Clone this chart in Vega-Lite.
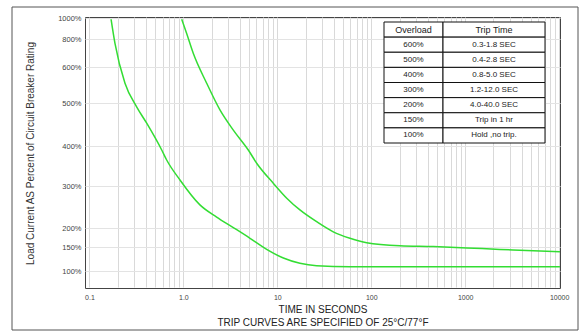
{
  "$schema": "https://vega.github.io/schema/vega-lite/v6.json",
  "autosize": {"type": "none"},
  "padding": {"left": 85, "top": 17, "right": 22, "bottom": 45},
  "width": 475,
  "height": 271,
  "background": "white",
  "config": {
    "view": {"stroke": "#444", "strokeWidth": 1},
    "font": "Liberation Sans"
  },
  "datasets": {
    "frame": [{"f0": 0, "f1": 1}],
    "curves": [
      {"curve": "min", "t": 0.17, "pct": 988},
      {"curve": "min", "t": 0.187, "pct": 769},
      {"curve": "min", "t": 0.239, "pct": 555},
      {"curve": "min", "t": 0.318, "pct": 491},
      {"curve": "min", "t": 0.407, "pct": 453},
      {"curve": "min", "t": 0.588, "pct": 390},
      {"curve": "min", "t": 0.664, "pct": 365},
      {"curve": "min", "t": 0.92, "pct": 315},
      {"curve": "min", "t": 1.5, "pct": 255},
      {"curve": "min", "t": 2.26, "pct": 226},
      {"curve": "min", "t": 3.4, "pct": 201},
      {"curve": "min", "t": 5.12, "pct": 173},
      {"curve": "min", "t": 7.7, "pct": 145},
      {"curve": "min", "t": 11.6, "pct": 127},
      {"curve": "min", "t": 17.4, "pct": 116},
      {"curve": "min", "t": 26.2, "pct": 111},
      {"curve": "min", "t": 59.3, "pct": 109},
      {"curve": "min", "t": 10200, "pct": 109},
      {"curve": "max", "t": 0.96, "pct": 988},
      {"curve": "max", "t": 1.084, "pct": 852},
      {"curve": "max", "t": 1.274, "pct": 698},
      {"curve": "max", "t": 1.77, "pct": 555},
      {"curve": "max", "t": 2.45, "pct": 484},
      {"curve": "max", "t": 3.4, "pct": 437},
      {"curve": "max", "t": 4.91, "pct": 390},
      {"curve": "max", "t": 6.03, "pct": 357},
      {"curve": "max", "t": 9.06, "pct": 307},
      {"curve": "max", "t": 12.6, "pct": 271},
      {"curve": "max", "t": 17.4, "pct": 243},
      {"curve": "max", "t": 26.2, "pct": 215},
      {"curve": "max", "t": 39.4, "pct": 190},
      {"curve": "max", "t": 59.3, "pct": 173},
      {"curve": "max", "t": 89.4, "pct": 161},
      {"curve": "max", "t": 202, "pct": 153},
      {"curve": "max", "t": 457, "pct": 151},
      {"curve": "max", "t": 1038, "pct": 148},
      {"curve": "max", "t": 2345, "pct": 145},
      {"curve": "max", "t": 5310, "pct": 142},
      {"curve": "max", "t": 10200, "pct": 140}
    ],
    "table": [
      {"r": 0, "c0": 0, "c1": 1, "cm": 0.5, "txt": "Overload"},
      {"r": 0, "c0": 1, "c1": 2, "cm": 1.5, "txt": "Trip Time"},
      {"r": 1, "c0": 0, "c1": 1, "cm": 0.5, "txt": "600%"},
      {"r": 1, "c0": 1, "c1": 2, "cm": 1.5, "txt": "0.3-1.8 SEC"},
      {"r": 2, "c0": 0, "c1": 1, "cm": 0.5, "txt": "500%"},
      {"r": 2, "c0": 1, "c1": 2, "cm": 1.5, "txt": "0.4-2.8 SEC"},
      {"r": 3, "c0": 0, "c1": 1, "cm": 0.5, "txt": "400%"},
      {"r": 3, "c0": 1, "c1": 2, "cm": 1.5, "txt": "0.8-5.0 SEC"},
      {"r": 4, "c0": 0, "c1": 1, "cm": 0.5, "txt": "300%"},
      {"r": 4, "c0": 1, "c1": 2, "cm": 1.5, "txt": "1.2-12.0 SEC"},
      {"r": 5, "c0": 0, "c1": 1, "cm": 0.5, "txt": "200%"},
      {"r": 5, "c0": 1, "c1": 2, "cm": 1.5, "txt": "4.0-40.0 SEC"},
      {"r": 6, "c0": 0, "c1": 1, "cm": 0.5, "txt": "150%"},
      {"r": 6, "c0": 1, "c1": 2, "cm": 1.5, "txt": "Trip in 1 hr"},
      {"r": 7, "c0": 0, "c1": 1, "cm": 0.5, "txt": "100%"},
      {"r": 7, "c0": 1, "c1": 2, "cm": 1.5, "txt": "Hold ,no trip."}
    ]
  },
  "layer": [
    {
      "data": {"name": "curves"},
      "mark": {"type": "line", "color": "#33dd33", "strokeWidth": 1.5, "interpolate": "monotone"},
      "encoding": {
        "detail": {"field": "curve", "type": "nominal"},
        "x": {
          "field": "t", "type": "quantitative",
          "scale": {"type": "log", "domain": [0.0897, 10210], "nice": false},
          "axis": {
            "values": [0.1,0.2,0.3,0.4,0.5,0.6,0.7,0.8,0.9,1,2,3,4,5,6,7,8,9,10,20,30,40,50,60,70,80,90,100,200,300,400,500,600,700,800,900,1000,2000,3000,4000,5000,6000,7000,8000,9000,10000],
            "labelExpr": "datum.value == 0.1 ? '0.1' : datum.value == 1 ? '1.0' : datum.value == 10 ? '10' : datum.value == 100 ? '100' : datum.value == 1000 ? '1000' : datum.value == 10000 ? '10000' : ''",
            "labelOverlap": false,
            "labelFlush": false,
            "labelFontSize": 7,
            "labelColor": "#444",
            "labelPadding": 5,
            "ticks": false,
            "domain": false,
            "grid": true,
            "gridColor": "#d9d9d9",
            "gridWidth": 1,
            "title": ["TIME IN SECONDS", "TRIP CURVES ARE SPECIFIED OF 25°C/77°F"],
            "titleFontSize": 10,
            "titleFontWeight": "normal",
            "titleColor": "#222",
            "titleLineHeight": 13,
            "titlePadding": 4
          }
        },
        "y": {
          "field": "pct", "type": "quantitative",
          "scale": {"type": "linear", "zero": false, "nice": false,
                    "domain": [70, 100, 150, 200, 300, 400, 500, 600, 800, 1000],
                    "range": [271, 254, 230, 211, 169, 129, 86, 50, 22, 1]},
          "axis": {
            "values": [100, 150, 200, 300, 400, 500, 600, 800, 1000],
            "labelExpr": "datum.value + '%'",
            "labelFontSize": 7.5,
            "labelColor": "#444",
            "labelPadding": 4,
            "labelOverlap": false,
            "ticks": false,
            "domain": false,
            "grid": true,
            "gridColor": "#e3e3e3",
            "title": "Load Current AS Percent of Circuit Breaker Rating",
            "titleFontSize": 10,
            "titleFontWeight": "normal",
            "titleColor": "#333",
            "titlePadding": 22
          }
        }
      }
    },
    {
      "data": {"name": "table"},
      "layer": [
        {
          "mark": {"type": "rect", "fill": "white", "stroke": "#111", "strokeWidth": 1},
          "encoding": {
            "x": {"field": "c0", "type": "quantitative",
                  "scale": {"domain": [0, 1, 2], "range": [299, 358, 460], "nice": false, "zero": false},
                  "axis": null},
            "x2": {"field": "c1"},
            "y": {"field": "r", "type": "ordinal",
                  "scale": {"range": [5, 126], "paddingInner": 0, "paddingOuter": 0},
                  "axis": null}
          }
        },
        {
          "mark": {"type": "text", "color": "#222", "baseline": "middle"},
          "encoding": {
            "x": {"field": "cm", "type": "quantitative", "axis": null},
            "y": {"field": "r", "type": "ordinal", "axis": null},
            "text": {"field": "txt", "type": "nominal"},
            "size": {"condition": {"test": "datum.r === 0", "value": 9}, "value": 8}
          }
        }
      ]
    },
    {
      "data": {"name": "frame"},
      "mark": {"type": "rect", "filled": false, "stroke": "#555", "strokeWidth": 1, "clip": false},
      "encoding": {
        "x": {"field": "f0", "type": "quantitative", "scale": {"domain": [0, 1], "range": [-73, 493], "nice": false, "zero": false}, "axis": null},
        "x2": {"field": "f1"},
        "y": {"field": "f0", "type": "quantitative", "scale": {"domain": [0, 1], "range": [-10, 313], "nice": false, "zero": false}, "axis": null},
        "y2": {"field": "f1"}
      }
    }
  ],
  "resolve": {"scale": {"x": "independent", "y": "independent"}}
}
